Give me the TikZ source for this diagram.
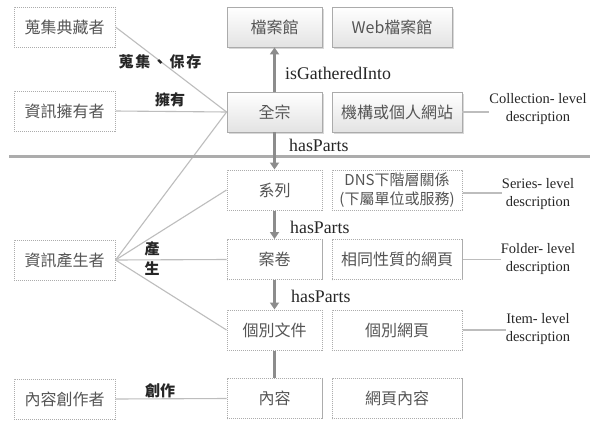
\documentclass[tikz,border=0pt]{standalone}
\usepackage{fontspec}
\setmainfont{Liberation Serif}
\newfontfamily\cjk{Noto Sans CJK TC}
\usetikzlibrary{arrows.meta,shadows}
\definecolor{txt}{HTML}{555555}
\definecolor{ln}{HTML}{BDBDBD}
\definecolor{arr}{HTML}{8C8C8C}
\definecolor{bd}{HTML}{ABABAB}
\begin{document}
\begin{tikzpicture}[x=1pt,y=-1pt,
  boxfont/.style={font=\cjk\fontsize{16}{18}\selectfont},
  solidbox/.style={boxfont, draw=bd, line width=0.8pt, top color=white, bottom color=gray!22,
    drop shadow={shadow xshift=1.5pt, shadow yshift=-1.5pt, fill=gray!50, opacity=0.6},
    text=txt, minimum height=40pt, inner sep=0pt},
  dotbox/.style={boxfont, draw=gray!65, dash pattern=on 1.1pt off 0.9pt, line width=1pt,
    fill=white, text=txt, minimum height=40pt, inner sep=0pt},
  cw/.style={minimum width=95pt},
  rw/.style={minimum width=130pt},
  lw/.style={minimum width=101pt},
  conn/.style={draw=ln, line width=1.1pt},
  harrow/.style={draw=arr, line width=2.6pt, -{Triangle[width=9pt,length=7pt]}},
  plainline/.style={draw=arr, line width=2.6pt},
  elabel/.style={font=\cjk\bfseries\fontsize{15}{20}\selectfont, text=black!85, inner sep=0pt, align=center},
  rlabel/.style={font=\fontsize{17.8}{19}\selectfont, text=black!85, anchor=west, inner sep=0pt},
  desc/.style={font=\fontsize{14.5}{18}\selectfont, text=black!85, align=center, inner sep=0pt}
]
\useasboundingbox[fill=white] (0,0) rectangle (604,423);

% left boxes
\node[dotbox,lw] (collector) at (64.5,27) {蒐集典藏者};
\node[dotbox,lw] (owner) at (64.5,111) {資訊擁有者};
\node[dotbox,lw] (producer) at (64.5,260) {資訊產生者};
\node[dotbox,lw] (author) at (64.5,399) {內容創作者};

% center column
\node[solidbox,cw] (arch) at (274.5,27) {檔案館};
\node[solidbox,cw] (fonds) at (274.5,112) {全宗};
\node[dotbox,cw] (series) at (274.5,190) {系列};
\node[dotbox,cw] (folder) at (274.5,259.5) {案卷};
\node[dotbox,cw] (item) at (274.5,330) {個別文件};
\node[dotbox,cw] (content) at (274.5,398.5) {內容};

% right column
\node[solidbox,minimum width=120pt] (warch) at (392,27) {Web檔案館};
\node[solidbox,rw] (site) at (397,112) {機構或個人網站};
\node[dotbox,rw,align=center,font=\cjk\fontsize{15}{19}\selectfont] (dns) at (397,190) {DNS下階層關係\\(下屬單位或服務)};
\node[dotbox,rw] (samepg) at (397,259.5) {相同性質的網頁};
\node[dotbox,rw] (page) at (397,330) {個別網頁};
\node[dotbox,rw] (pgcontent) at (397,398.5) {網頁內容};

% descriptions
\node[desc] (dcoll) at (538,109) {Collection- level\\description};
\node[desc] (dser) at (538,194) {Series- level\\description};
\node[desc] (dfold) at (538,259) {Folder- level\\description};
\node[desc] (ditem) at (538,329) {Item- level\\description};

\draw[conn] (site.east) -- (site.east -| dcoll.west);
\draw[conn] ([yshift=-3pt]dns.east) -- ([yshift=-3pt]dns.east -| dser.west);
\draw[conn] (samepg.east) -- (samepg.east -| dfold.west);
\draw[conn] (page.east) -- (page.east -| ditem.west);

% left connectors
\draw[conn] (collector.east) -- (fonds.west);
\draw[conn] (owner.east) -- (fonds.west);
\draw[conn] (producer.east) -- (fonds.west);
\draw[conn] (producer.east) -- (series.west);
\draw[conn] (producer.east) -- (folder.west);
\draw[conn] (producer.east) -- (item.west);
\draw[conn] (author.east) -- (content.west);

% horizontal rule
\coordinate (r1) at (9,156);
\coordinate (r2) at (590,156);
\draw[draw=gray!65, line width=3pt] (r1) -- (r2);

% arrows
\draw[harrow] (fonds.north) -- (arch.south);
\draw[harrow] (fonds.south) -- (series.north);
\draw[harrow] (series.south) -- (folder.north);
\draw[harrow] (folder.south) -- (item.north);
\draw[plainline] (item.south) -- (content.north);

% labels
\node[rlabel] (lgath) at (285,73) {isGatheredInto};
\node[rlabel] (lhp1) at (289,145) {hasParts};
\node[rlabel] (lhp2) at (290,227) {hasParts};
\node[rlabel] (lhp3) at (291,296) {hasParts};

\node[elabel] (lcollect) at (160,62) {蒐\hspace{2pt}集\hspace{2pt}、\hspace{2pt}保\hspace{2pt}存};
\node[elabel] (lown) at (170,100) {擁有};
\node[elabel] (lprod) at (152,258) {產\\生};
\node[elabel] (lcreate) at (160,391) {創作};
\end{tikzpicture}
\end{document}
